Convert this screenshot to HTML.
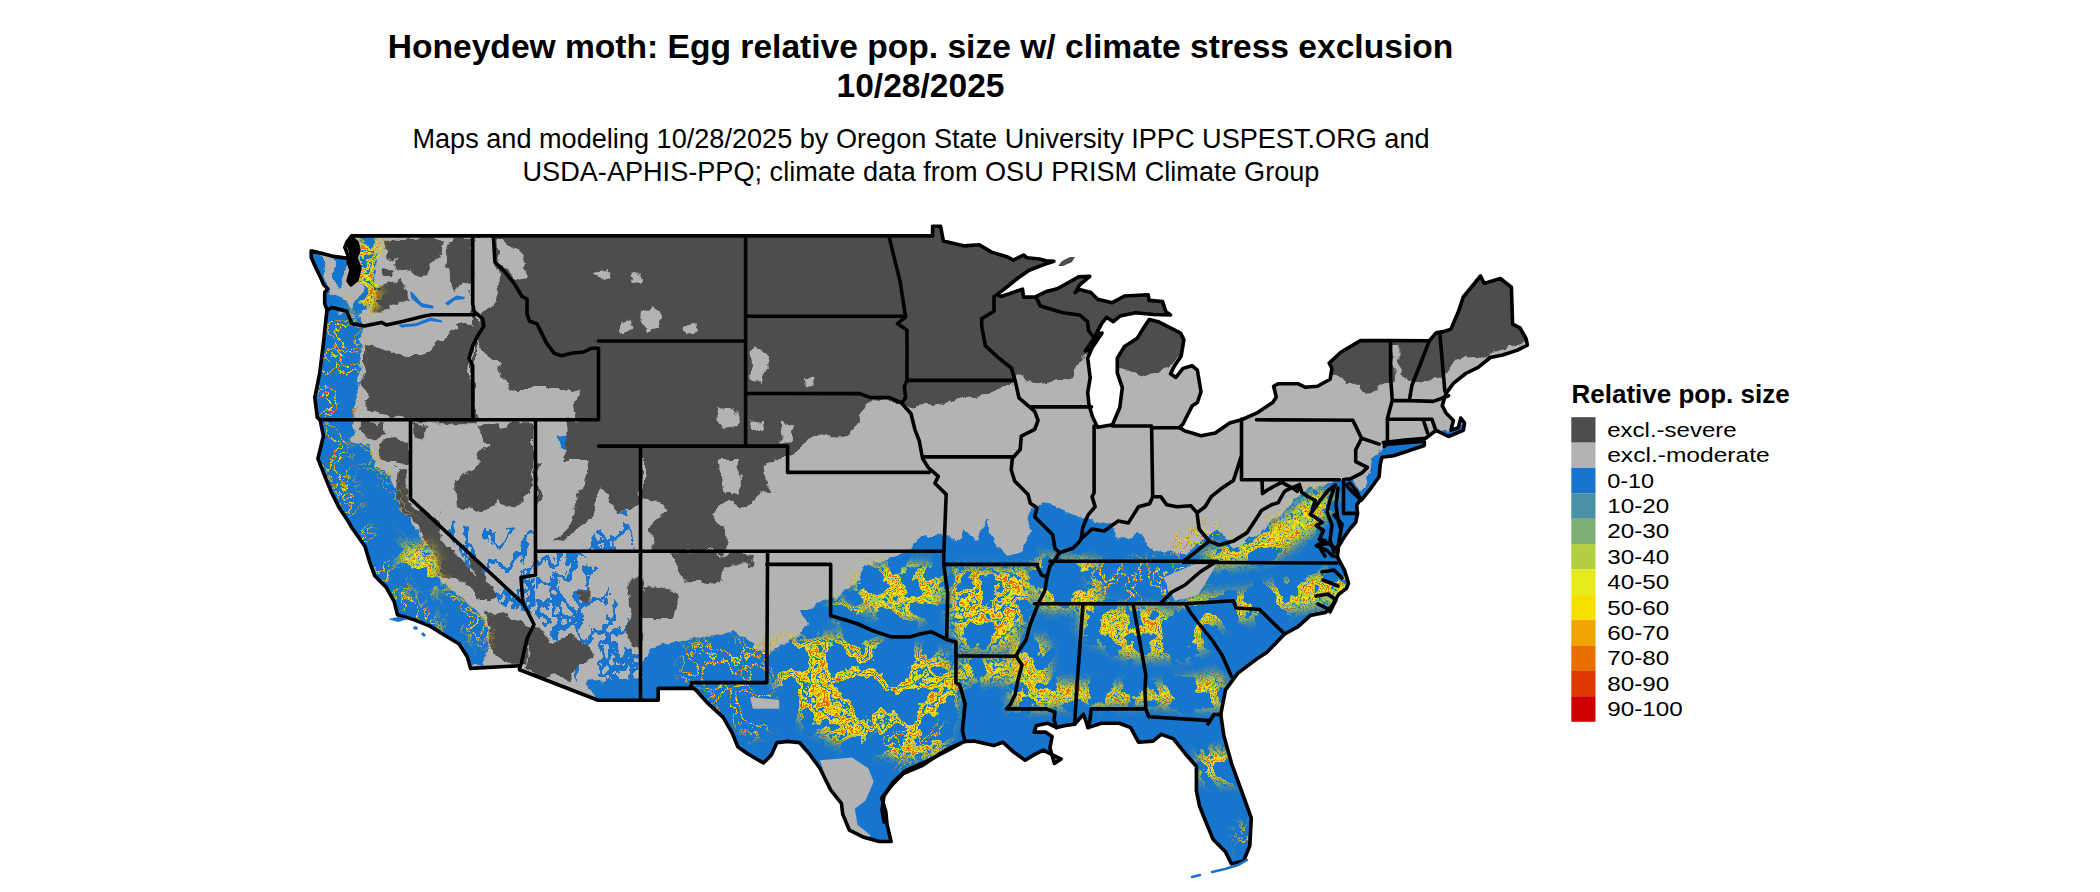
<!DOCTYPE html>
<html><head><meta charset="utf-8"><style>
html,body{margin:0;padding:0;background:#fff;width:2100px;height:892px;overflow:hidden}
svg{position:absolute;left:0;top:0}
text{font-family:"Liberation Sans",sans-serif;fill:#000}
.t{font-weight:bold;font-size:33.6px}
.s{font-size:27.12px}
.lt{font-weight:bold;font-size:26px}
.lab{font-size:20.4px}
</style></head><body>
<svg width="2100" height="892" viewBox="0 0 2100 892">
<text x="920.5" y="57.5" text-anchor="middle" class="t">Honeydew moth: Egg relative pop. size w/ climate stress exclusion</text>
<text x="920.5" y="97.4" text-anchor="middle" class="t">10/28/2025</text>
<text x="921" y="148.4" text-anchor="middle" class="s">Maps and modeling 10/28/2025 by Oregon State University IPPC USPEST.ORG and</text>
<text x="921" y="181" text-anchor="middle" class="s">USDA-APHIS-PPQ; climate data from OSU PRISM Climate Group</text>
<text x="1571.5" y="403" class="lt">Relative pop. size</text>
<rect x="1571.3" y="417.20" width="24.2" height="25.5" fill="#4d4d4d"/><text x="1607.2" y="437.00" class="lab" textLength="129.5" lengthAdjust="spacingAndGlyphs">excl.-severe</text><rect x="1571.3" y="442.57" width="24.2" height="25.5" fill="#b3b3b3"/><text x="1607.2" y="462.37" class="lab" textLength="162.5" lengthAdjust="spacingAndGlyphs">excl.-moderate</text><rect x="1571.3" y="467.94" width="24.2" height="25.5" fill="#1874cd"/><text x="1607.2" y="487.74" class="lab" textLength="47.0" lengthAdjust="spacingAndGlyphs">0-10</text><rect x="1571.3" y="493.31" width="24.2" height="25.5" fill="#4a8fa3"/><text x="1607.2" y="513.11" class="lab" textLength="62.0" lengthAdjust="spacingAndGlyphs">10-20</text><rect x="1571.3" y="518.68" width="24.2" height="25.5" fill="#7dae73"/><text x="1607.2" y="538.48" class="lab" textLength="62.0" lengthAdjust="spacingAndGlyphs">20-30</text><rect x="1571.3" y="544.05" width="24.2" height="25.5" fill="#b2cf44"/><text x="1607.2" y="563.85" class="lab" textLength="62.0" lengthAdjust="spacingAndGlyphs">30-40</text><rect x="1571.3" y="569.42" width="24.2" height="25.5" fill="#e6ec1b"/><text x="1607.2" y="589.22" class="lab" textLength="62.0" lengthAdjust="spacingAndGlyphs">40-50</text><rect x="1571.3" y="594.79" width="24.2" height="25.5" fill="#f7e000"/><text x="1607.2" y="614.59" class="lab" textLength="62.0" lengthAdjust="spacingAndGlyphs">50-60</text><rect x="1571.3" y="620.16" width="24.2" height="25.5" fill="#f0a400"/><text x="1607.2" y="639.96" class="lab" textLength="62.0" lengthAdjust="spacingAndGlyphs">60-70</text><rect x="1571.3" y="645.53" width="24.2" height="25.5" fill="#e86f00"/><text x="1607.2" y="665.33" class="lab" textLength="62.0" lengthAdjust="spacingAndGlyphs">70-80</text><rect x="1571.3" y="670.90" width="24.2" height="25.5" fill="#e03900"/><text x="1607.2" y="690.70" class="lab" textLength="62.0" lengthAdjust="spacingAndGlyphs">80-90</text><rect x="1571.3" y="696.27" width="24.2" height="25.5" fill="#d00000"/><text x="1607.2" y="716.07" class="lab" textLength="75.5" lengthAdjust="spacingAndGlyphs">90-100</text>
<defs><clipPath id="landclip"><path d="M351.6,235.9 L932.6,235.9 L932.6,226.2 L940.5,226.2 L943.4,241.0 L964.4,245.9 L979.2,244.7 L991.5,252.1 L1006.8,256.7 L1013.5,260.1 L1023.6,255.0 L1027.0,257.8 L1039.3,259.0 L1046.1,260.7 L1053.9,261.2 L1043.8,264.6 L1029.2,270.2 L1018.0,278.0 L1006.8,287.0 L996.7,294.8 L1001.2,296.5 L1012.4,292.6 L1022.5,289.2 L1023.6,297.1 L1034.8,297.1 L1046.1,291.5 L1057.3,288.7 L1068.5,282.5 L1078.6,276.9 L1089.8,276.3 L1079.7,284.8 L1075.2,292.6 L1078.6,289.2 L1090.9,292.6 L1097.6,299.3 L1112.2,302.7 L1124.5,296.0 L1148.1,294.8 L1149.2,300.4 L1162.6,301.6 L1166.0,311.7 L1170.5,315.0 L1153.7,314.5 L1135.7,312.8 L1120.0,316.1 L1113.3,321.7 L1106.6,317.3 L1102.1,322.9 L1094.3,337.4 L1090.9,343.0 L1085.3,350.7 L1088.0,350.0 L1098.0,334.0 L1102.0,333.0 L1092.0,348.0 L1087.7,358.1 L1090.2,377.9 L1087.7,392.7 L1089.0,405.0 L1092.7,417.3 L1097.6,427.2 L1105.0,426.0 L1112.4,424.7 L1119.8,407.5 L1122.3,387.7 L1117.3,372.9 L1117.3,358.1 L1124.5,346.4 L1136.9,338.6 L1144.7,326.2 L1149.2,319.5 L1158.2,321.7 L1169.4,327.4 L1180.6,333.0 L1183.9,339.7 L1181.2,355.9 L1174.1,366.6 L1170.5,373.8 L1175.9,377.4 L1183.0,368.4 L1192.0,365.7 L1197.4,370.2 L1201.0,391.7 L1197.4,402.5 L1192.0,406.1 L1188.4,413.2 L1183.0,424.0 L1179.4,427.6 L1185.0,431.0 L1192.0,433.0 L1201.0,435.7 L1215.3,433.0 L1229.7,423.1 L1242.2,419.5 L1256.5,413.2 L1272.7,402.5 L1276.3,397.1 L1273.6,386.3 L1278.1,383.7 L1297.8,383.7 L1305.0,387.2 L1317.5,386.3 L1330.1,379.2 L1331.9,368.4 L1329.2,363.0 L1340.8,352.3 L1360.5,340.6 L1391.0,340.6 L1429.4,340.7 L1436.1,332.8 L1443.5,331.6 L1450.9,329.1 L1458.3,311.8 L1463.3,297.0 L1480.5,276.0 L1484.2,283.4 L1500.3,278.5 L1511.4,287.1 L1512.6,324.2 L1520.0,327.9 L1526.2,339.0 L1527.4,345.1 L1517.6,350.1 L1502.7,355.0 L1490.4,357.5 L1478.1,367.4 L1465.7,373.5 L1453.4,383.4 L1446.0,393.3 L1442.3,405.6 L1446.0,413.0 L1453.4,420.4 L1450.9,430.3 L1458.3,427.8 L1460.8,418.0 L1464.5,422.9 L1463.3,430.3 L1448.5,436.5 L1436.1,430.3 L1431.5,433.9 L1425.7,438.3 L1405.0,440.0 L1383.4,442.6 L1385.0,444.5 L1424.3,441.2 L1424.3,445.5 L1393.6,455.7 L1382.0,457.2 L1380.2,464.5 L1379.1,476.8 L1370.2,489.2 L1361.2,500.4 L1357.0,492.0 L1350.0,483.0 L1346.5,485.1 L1352.6,492.2 L1360.6,499.3 L1356.6,505.3 L1357.6,513.4 L1355.6,522.5 L1349.5,529.5 L1344.5,536.6 L1338.4,546.7 L1337.4,556.8 L1344.5,570.3 L1348.5,583.4 L1346.5,588.4 L1338.4,594.5 L1332.4,605.6 L1325.3,612.6 L1310.2,615.6 L1298.1,626.7 L1284.6,634.0 L1267.0,652.2 L1255.9,659.6 L1237.6,673.4 L1225.4,690.1 L1220.8,714.5 L1223.9,735.9 L1231.5,763.3 L1243.7,796.9 L1251.3,818.2 L1249.8,845.7 L1243.7,860.9 L1231.5,864.0 L1225.4,851.8 L1213.2,839.6 L1205.6,821.3 L1199.5,806.0 L1196.4,790.8 L1196.4,766.4 L1185.7,754.2 L1173.5,738.9 L1161.3,734.4 L1153.0,741.1 L1138.5,742.2 L1130.6,727.6 L1119.4,723.2 L1101.5,723.2 L1088.0,727.6 L1083.5,714.2 L1074.6,724.3 L1065.6,725.4 L1056.6,727.6 L1047.6,723.2 L1036.4,725.4 L1034.2,732.1 L1045.4,732.1 L1052.1,736.6 L1049.9,747.8 L1054.4,763.5 L1061.1,759.0 L1052.1,754.6 L1043.2,750.1 L1034.2,754.6 L1025.2,760.2 L1014.0,752.3 L1002.8,742.2 L993.8,745.6 L973.6,741.1 L965.1,741.4 L949.0,748.2 L938.2,754.9 L922.1,765.7 L903.2,773.7 L892.5,784.5 L881.7,797.9 L885.8,811.4 L887.1,824.8 L891.1,841.5 L879.0,841.5 L862.9,836.9 L849.4,830.2 L842.7,814.1 L841.4,803.3 L830.6,789.9 L819.9,768.3 L809.1,753.5 L799.7,742.8 L787.6,741.4 L776.8,742.8 L771.4,754.9 L763.4,763.0 L747.2,753.5 L737.8,746.8 L732.4,733.4 L723.0,717.2 L706.9,702.4 L696.1,690.3 L690.8,686.3 L693.5,688.4 L658.2,688.4 L658.2,700.2 L598.1,700.2 L519.5,669.7 L520.4,665.7 L470.6,668.4 L467.4,657.0 L459.2,644.0 L443.0,634.2 L430.0,626.1 L413.7,619.6 L397.5,614.7 L394.2,601.7 L386.1,587.1 L374.7,575.8 L369.9,562.7 L365.0,546.5 L357.0,535.0 L352.0,528.0 L348.7,522.1 L339.0,507.5 L330.9,491.2 L324.4,475.0 L317.9,458.7 L323.4,436.0 L320.1,419.8 L317.3,417.4 L314.8,397.6 L319.7,373.0 L323.4,343.4 L326.0,318.7 L327.0,310.0 L324.7,303.5 L324.7,292.3 L328.0,288.9 L323.5,284.4 L320.2,276.6 L315.7,267.6 L311.2,257.5 L311.2,250.8 L322.4,253.6 L333.6,256.4 L349.3,258.6 L344.8,247.4 L347.1,241.8Z"/></clipPath><clipPath id="c_st0"><path d="M536.0,554.0 L580.0,552.0 L600.0,570.0 L615.0,600.0 L641.0,635.0 L641.0,700.0 L586.0,700.0 L561.0,651.0 L536.0,615.0Z"/></clipPath>
<clipPath id="c_st1"><path d="M454.0,540.0 L534.5,540.0 L534.5,574.0 L536.0,615.0 L530.0,612.0 L507.0,608.0 L486.0,594.0 L472.0,576.0Z"/></clipPath>
<clipPath id="c_st2"><path d="M439.9,511.2 L461.4,525.5 L497.2,529.1 L533.1,525.5 L536.7,559.9 L470.3,559.9 L452.4,543.4Z"/></clipPath>
<clipPath id="c_st3"><path d="M640.0,655.0 L700.0,650.0 L767.0,645.0 L767.0,683.0 L640.0,700.0Z"/></clipPath>
<clipPath id="c_st4"><path d="M582.5,550.0 L596.6,530.8 L610.7,520.7 L622.8,510.6 L632.9,508.6 L630.9,526.8 L634.9,550.0Z"/></clipPath>
<clipPath id="c_st5"><path d="M580.0,690.0 L640.0,672.0 L640.0,702.0 L596.0,702.0Z"/></clipPath>
<mask id="c_thin" maskUnits="userSpaceOnUse" x="300" y="200" width="1300" height="700"><g filter="url(#mblur)"><path fill="#fff" d="M689.4,638.9 L774.2,638.9 L774.2,723.7 L755.3,742.5 L708.2,704.8Z"/><path fill="#fff" d="M1089.6,558.9 L1216.7,558.9 L1197.9,601.2 L1089.6,601.2Z"/><path fill="#fff" d="M1235.6,827.2 L1249.7,817.8 L1252.0,850.8 L1237.9,855.5Z"/><path fill="#fff" d="M877.7,723.7 L943.7,723.7 L962.5,742.5 L906.0,770.7 L877.7,761.3Z"/><path fill="#fff" d="M1174.4,530.6 L1221.4,521.2 L1221.4,554.2 L1174.4,558.9Z"/><path fill="#fff" d="M680.0,648.3 L767.1,638.9 L767.1,686.0 L680.0,686.0Z"/><path fill="#fff" d="M316.0,312.0 L362.0,318.0 L360.0,360.0 L356.0,420.0 L316.0,420.0Z"/><path fill="#fff" d="M318.0,425.0 L345.0,425.0 L350.0,470.0 L365.0,520.0 L390.0,560.0 L420.0,600.0 L455.0,640.0 L470.0,660.0 L460.0,672.0 L430.0,640.0 L390.0,600.0 L360.0,560.0 L335.0,500.0 L320.0,460.0Z"/><path fill="#fff" d="M354.0,440.0 L372.0,444.0 L376.0,468.0 L387.0,472.0 L400.0,493.0 L406.0,510.0 L415.0,529.0 L427.0,548.0 L434.0,564.0 L442.0,582.0 L455.0,592.0 L470.0,606.0 L484.0,615.0 L490.0,630.0 L486.0,650.0 L470.0,640.0 L450.0,610.0 L432.0,584.0 L422.0,566.0 L410.0,545.0 L400.0,525.0 L392.0,500.0 L380.0,480.0 L366.0,470.0Z"/></g></mask>
<mask id="c_mid" maskUnits="userSpaceOnUse" x="300" y="200" width="1300" height="700"><g filter="url(#mblur)"><path fill="#fff" d="M830.0,600.0 L860.0,600.0 L880.0,620.0 L850.0,628.0 L830.0,615.0Z"/><path fill="#fff" d="M774.2,638.9 L844.8,634.2 L891.9,643.6 L943.7,653.0 L962.5,686.0 L943.7,751.9 L915.4,761.3 L877.7,751.9 L835.4,742.5 L802.4,723.7 L774.2,686.0Z"/><path fill="#fff" d="M948.4,568.3 L1037.8,568.3 L1028.4,615.4 L1009.6,648.3 L957.8,648.3 L948.4,615.4Z"/><path fill="#fff" d="M957.8,657.7 L1019.0,657.7 L1019.0,681.3 L957.8,681.3Z"/><path fill="#fff" d="M1197.9,747.2 L1240.3,751.9 L1240.3,784.9 L1197.9,780.2Z"/><path fill="#fff" d="M352.0,238.0 L380.0,238.0 L378.0,310.0 L352.0,310.0Z"/></g></mask>
<mask id="c_dense" maskUnits="userSpaceOnUse" x="300" y="200" width="1300" height="700"><g filter="url(#mblur)"><path fill="#fff" d="M860.0,568.0 L900.0,562.0 L945.0,566.0 L945.0,600.0 L920.0,622.0 L880.0,618.0 L852.0,602.0Z"/><path fill="#fff" d="M1032.0,556.0 L1098.0,560.0 L1102.0,608.0 L1040.0,610.0 L1030.0,585.0Z"/><path fill="#fff" d="M1080.2,606.0 L1150.8,606.0 L1197.9,620.1 L1221.4,638.9 L1188.5,657.7 L1127.3,657.7 L1080.2,634.2Z"/><path fill="#fff" d="M1179.1,596.5 L1245.0,591.8 L1315.6,573.0 L1348.5,568.3 L1348.5,601.2 L1292.1,610.7 L1221.4,624.8 L1188.5,624.8Z"/><path fill="#fff" d="M1197.9,554.2 L1245.0,535.3 L1282.6,516.5 L1315.6,488.2 L1339.1,497.7 L1315.6,530.6 L1273.2,558.9 L1221.4,568.3Z"/><path fill="#fff" d="M1009.6,638.9 L1047.2,638.9 L1051.9,709.5 L1009.6,709.5Z"/><path fill="#fff" d="M1047.2,681.3 L1150.8,686.0 L1221.4,671.9 L1226.1,709.5 L1150.8,704.8 L1047.2,707.2Z"/><path fill="#fff" d="M398.0,545.0 L432.0,545.0 L442.0,578.0 L432.0,596.0 L400.0,590.0Z"/></g></mask>
<filter id="rough" filterUnits="userSpaceOnUse" x="280" y="200" width="1300" height="700"><feTurbulence type="fractalNoise" baseFrequency="0.06" numOctaves="4" seed="4" result="n"/><feDisplacementMap in="SourceGraphic" in2="n" scale="14" xChannelSelector="R" yChannelSelector="G"/></filter>
<filter id="rough2" filterUnits="userSpaceOnUse" x="280" y="200" width="1300" height="700"><feTurbulence type="fractalNoise" baseFrequency="0.07" numOctaves="4" seed="9" result="n"/><feDisplacementMap in="SourceGraphic" in2="n" scale="12" xChannelSelector="R" yChannelSelector="G"/></filter>
<filter id="mblur" filterUnits="userSpaceOnUse" x="300" y="200" width="1300" height="700"><feGaussianBlur stdDeviation="6"/></filter>
<filter id="fthin" filterUnits="userSpaceOnUse" x="300" y="200" width="1300" height="700" color-interpolation-filters="sRGB"><feTurbulence type="fractalNoise" baseFrequency="0.03" numOctaves="5" seed="17" result="t"/><feColorMatrix in="t" type="matrix" values="0 0 0 0 0  0 0 0 0 0  0 0 0 0 0  1 0 0 0 0" result="a"/><feComponentTransfer in="a" result="halo"><feFuncA type="discrete" tableValues="0 0 0 0 0 0 0 0 0 0 0 0 0 0 0 0 0 0 0 0 0 0 0 0 0 0 0 0 0 0 0 0 0 0 0 0 0 0 0 0 0 0 0 0 0 0 0 0 0 0 0 0 0 0 0 0 0 0 0 0 0 0 0 0 0 0 0 0 0 0 0 0 0 0 0 0 0 0 0 0 0 0 0 0 0 1 1 1 1 1 1 0 0 0 0 0 0 0 0 0 0 0 0 0 0 0 0 0 0 1 1 1 1 1 1 0 0 0 0 0 0 0 0 0 0 0 0 0 0 0 0 0 0 0 0 0 0 0 0 0 0 0 0 0 0 0 0 0 0 0 0 0 0 0 0 0 0 0 0 0 0 0 0 0 0 0 0 0 0 0 0 0 0 0 0 0 0 0 0 0 0 0 0 0 0 0 0 0 0 0 0 0 0 0 0 0 0 0 0 0"/></feComponentTransfer><feComponentTransfer in="a" result="band"><feFuncA type="discrete" tableValues="0 0 0 0 0 0 0 0 0 0 0 0 0 0 0 0 0 0 0 0 0 0 0 0 0 0 0 0 0 0 0 0 0 0 0 0 0 0 0 0 0 0 0 0 0 0 0 0 0 0 0 0 0 0 0 0 0 0 0 0 0 0 0 0 0 0 0 0 0 0 0 0 0 0 0 0 0 0 0 0 0 0 0 0 0 0 1 1 1 1 0 0 0 0 0 0 0 0 0 0 0 0 0 0 0 0 0 0 0 0 1 1 1 1 0 0 0 0 0 0 0 0 0 0 0 0 0 0 0 0 0 0 0 0 0 0 0 0 0 0 0 0 0 0 0 0 0 0 0 0 0 0 0 0 0 0 0 0 0 0 0 0 0 0 0 0 0 0 0 0 0 0 0 0 0 0 0 0 0 0 0 0 0 0 0 0 0 0 0 0 0 0 0 0 0 0 0 0 0 0"/></feComponentTransfer><feComponentTransfer in="a" result="core"><feFuncA type="discrete" tableValues="0 0 0 0 0 0 0 0 0 0 0 0 0 0 0 0 0 0 0 0 0 0 0 0 0 0 0 0 0 0 0 0 0 0 0 0 0 0 0 0 0 0 0 0 0 0 0 0 0 0 0 0 0 0 0 0 0 0 0 0 0 0 0 0 0 0 0 0 0 0 0 0 0 0 0 0 0 0 0 0 0 0 0 0 0 0 0 0 0 0 0 0 0 0 0 0 0 0 0 0 0 0 0 0 0 0 0 0 0 0 0 0 0 0 0 0 0 0 0 0 0 0 0 0 0 0 0 0 0 0 0 0 0 0 0 0 0 0 0 0 0 0 0 0 0 0 0 0 0 0 0 0 0 0 0 0 0 0 0 0 0 0 0 0 0 0 0 0 0 0 0 0 0 0 1 1 1 1 0 0 0 0 0 0 0 0 0 0 0 0 0 0 0 0 0 0 0 0 0 0 0 0 0 0 0 0 0 0 0 0 0 0 0 0 0 0 0 0 0 0 0 0 1 1 1 1 0 0 0 0 0 0 0 0 0 0 0 0 0 0 0 0 0 0 0 0 0 0 0 0 0 0 0 0 0 0 0 0 0 0 0 0 0 0 0 0 0 0 0 0 0 0 0 0 0 0 0 0 0 0 0 0 0 0 0 0 0 0 0 0 0 0 0 0 0 0 0 0 0 0 0 0 0 0 0 0 0 0 0 0 0 0 0 0 0 0 0 0 0 0 0 0 0 0 0 0 0 0 0 0 0 0 0 0 0 0 0 0 0 0 0 0 0 0 0 0 0 0 0 0 0 0 0 0 0 0 0 0 0 0 0 0 0 0 0 0 0 0 0 0 0 0 0 0 0 0 0 0 0 0 0 0 0 0 0 0 0 0 0 0 0 0 0 0 0 0 0 0 0 0"/></feComponentTransfer><feFlood flood-color="#a8c850"/><feComposite in2="halo" operator="in" result="hl"/><feFlood flood-color="#f8e000"/><feComposite in2="band" operator="in" result="yl"/><feFlood flood-color="#e87000"/><feComposite in2="core" operator="in" result="ol"/><feMerge><feMergeNode in="hl"/><feMergeNode in="yl"/><feMergeNode in="ol"/></feMerge></filter>
<filter id="fdense" filterUnits="userSpaceOnUse" x="300" y="200" width="1300" height="700" color-interpolation-filters="sRGB"><feTurbulence type="fractalNoise" baseFrequency="0.025" numOctaves="5" seed="7" result="t"/><feColorMatrix in="t" type="matrix" values="0 0 0 0 0  0 0 0 0 0  0 0 0 0 0  1 0 0 0 0" result="a"/><feComponentTransfer in="a" result="halo"><feFuncA type="discrete" tableValues="0 0 0 0 0 0 0 0 0 0 0 0 0 0 0 0 0 0 0 0 0 0 0 0 0 0 0 0 0 0 0 0 0 0 0 0 0 0 0 0 0 0 0 0 0 0 0 0 0 0 0 0 0 0 0 0 0 0 0 0 0 0 0 0 0 0 0 0 0 0 0 0 0 0 0 0 0 0 0 0 0 1 1 1 1 1 1 1 1 1 1 1 1 1 1 1 1 1 1 0 0 1 1 1 1 1 1 1 1 1 1 1 1 1 1 1 1 1 1 0 0 0 0 0 0 0 0 0 0 0 0 0 0 0 0 0 0 0 0 0 0 0 0 0 0 0 0 0 0 0 0 0 0 0 0 0 0 0 0 0 0 0 0 0 0 0 0 0 0 0 0 0 0 0 0 0 0 0 0 0 0 0 0 0 0 0 0 0 0 0 0 0 0 0 0 0 0 0 0 0"/></feComponentTransfer><feComponentTransfer in="a" result="band"><feFuncA type="discrete" tableValues="0 0 0 0 0 0 0 0 0 0 0 0 0 0 0 0 0 0 0 0 0 0 0 0 0 0 0 0 0 0 0 0 0 0 0 0 0 0 0 0 0 0 0 0 0 0 0 0 0 0 0 0 0 0 0 0 0 0 0 0 0 0 0 0 0 0 0 0 0 0 0 0 0 0 0 0 0 0 0 0 0 0 0 0 0 1 1 1 1 1 1 1 1 1 1 0 0 0 0 0 0 0 0 0 0 1 1 1 1 1 1 1 1 1 1 0 0 0 0 0 0 0 0 0 0 0 0 0 0 0 0 0 0 0 0 0 0 0 0 0 0 0 0 0 0 0 0 0 0 0 0 0 0 0 0 0 0 0 0 0 0 0 0 0 0 0 0 0 0 0 0 0 0 0 0 0 0 0 0 0 0 0 0 0 0 0 0 0 0 0 0 0 0 0 0 0 0 0 0 0"/></feComponentTransfer><feComponentTransfer in="a" result="core"><feFuncA type="discrete" tableValues="0 0 0 0 0 0 0 0 0 0 0 0 0 0 0 0 0 0 0 0 0 0 0 0 0 0 0 0 0 0 0 0 0 0 0 0 0 0 0 0 0 0 0 0 0 0 0 0 0 0 0 0 0 0 0 0 0 0 0 0 0 0 0 0 0 0 0 0 0 0 0 0 0 0 0 0 0 0 0 0 0 0 0 0 0 0 0 0 0 0 0 0 0 0 0 0 0 0 0 0 0 0 0 0 0 0 0 0 0 0 0 0 0 0 0 0 0 0 0 0 0 0 0 0 0 0 0 0 0 0 0 0 0 0 0 0 0 0 0 0 0 0 0 0 0 0 0 0 0 0 0 0 0 0 0 0 0 0 0 0 0 0 0 0 0 0 0 0 0 0 0 0 0 0 0 0 0 1 1 1 1 1 1 0 0 0 0 0 0 0 0 0 0 0 0 0 0 0 0 0 0 0 0 0 0 0 0 0 0 0 0 0 0 0 0 0 0 1 1 1 1 1 1 0 0 0 0 0 0 0 0 0 0 0 0 0 0 0 0 0 0 0 0 0 0 0 0 0 0 0 0 0 0 0 0 0 0 0 0 0 0 0 0 0 0 0 0 0 0 0 0 0 0 0 0 0 0 0 0 0 0 0 0 0 0 0 0 0 0 0 0 0 0 0 0 0 0 0 0 0 0 0 0 0 0 0 0 0 0 0 0 0 0 0 0 0 0 0 0 0 0 0 0 0 0 0 0 0 0 0 0 0 0 0 0 0 0 0 0 0 0 0 0 0 0 0 0 0 0 0 0 0 0 0 0 0 0 0 0 0 0 0 0 0 0 0 0 0 0 0 0 0 0 0 0 0 0 0 0 0 0 0 0 0 0 0 0 0 0 0 0 0 0 0 0 0 0 0 0 0"/></feComponentTransfer><feFlood flood-color="#a8c850"/><feComposite in2="halo" operator="in" result="hl"/><feFlood flood-color="#f8e000"/><feComposite in2="band" operator="in" result="yl"/><feFlood flood-color="#e87000"/><feComposite in2="core" operator="in" result="ol"/><feMerge><feMergeNode in="hl"/><feMergeNode in="yl"/><feMergeNode in="ol"/></feMerge></filter>
<filter id="fmid" filterUnits="userSpaceOnUse" x="300" y="200" width="1300" height="700" color-interpolation-filters="sRGB"><feTurbulence type="fractalNoise" baseFrequency="0.025" numOctaves="5" seed="13" result="t"/><feColorMatrix in="t" type="matrix" values="0 0 0 0 0  0 0 0 0 0  0 0 0 0 0  1 0 0 0 0" result="a"/><feComponentTransfer in="a" result="halo"><feFuncA type="discrete" tableValues="0 0 0 0 0 0 0 0 0 0 0 0 0 0 0 0 0 0 0 0 0 0 0 0 0 0 0 0 0 0 0 0 0 0 0 0 0 0 0 0 0 0 0 0 0 0 0 0 0 0 0 0 0 0 0 0 0 0 0 0 0 0 0 0 0 0 0 0 0 0 0 0 0 0 0 0 0 0 0 0 0 0 1 1 1 1 1 1 1 1 1 1 1 1 1 1 1 1 0 0 0 0 1 1 1 1 1 1 1 1 1 1 1 1 1 1 1 1 0 0 0 0 0 0 0 0 0 0 0 0 0 0 0 0 0 0 0 0 0 0 0 0 0 0 0 0 0 0 0 0 0 0 0 0 0 0 0 0 0 0 0 0 0 0 0 0 0 0 0 0 0 0 0 0 0 0 0 0 0 0 0 0 0 0 0 0 0 0 0 0 0 0 0 0 0 0 0 0 0 0"/></feComponentTransfer><feComponentTransfer in="a" result="band"><feFuncA type="discrete" tableValues="0 0 0 0 0 0 0 0 0 0 0 0 0 0 0 0 0 0 0 0 0 0 0 0 0 0 0 0 0 0 0 0 0 0 0 0 0 0 0 0 0 0 0 0 0 0 0 0 0 0 0 0 0 0 0 0 0 0 0 0 0 0 0 0 0 0 0 0 0 0 0 0 0 0 0 0 0 0 0 0 0 0 0 0 0 1 1 1 1 1 1 1 1 1 1 0 0 0 0 0 0 0 0 0 0 1 1 1 1 1 1 1 1 1 1 0 0 0 0 0 0 0 0 0 0 0 0 0 0 0 0 0 0 0 0 0 0 0 0 0 0 0 0 0 0 0 0 0 0 0 0 0 0 0 0 0 0 0 0 0 0 0 0 0 0 0 0 0 0 0 0 0 0 0 0 0 0 0 0 0 0 0 0 0 0 0 0 0 0 0 0 0 0 0 0 0 0 0 0 0"/></feComponentTransfer><feComponentTransfer in="a" result="core"><feFuncA type="discrete" tableValues="0 0 0 0 0 0 0 0 0 0 0 0 0 0 0 0 0 0 0 0 0 0 0 0 0 0 0 0 0 0 0 0 0 0 0 0 0 0 0 0 0 0 0 0 0 0 0 0 0 0 0 0 0 0 0 0 0 0 0 0 0 0 0 0 0 0 0 0 0 0 0 0 0 0 0 0 0 0 0 0 0 0 0 0 0 0 0 0 0 0 0 0 0 0 0 0 0 0 0 0 0 0 0 0 0 0 0 0 0 0 0 0 0 0 0 0 0 0 0 0 0 0 0 0 0 0 0 0 0 0 0 0 0 0 0 0 0 0 0 0 0 0 0 0 0 0 0 0 0 0 0 0 0 0 0 0 0 0 0 0 0 0 0 0 0 0 0 0 0 0 0 0 0 0 0 0 0 1 1 1 1 1 1 0 0 0 0 0 0 0 0 0 0 0 0 0 0 0 0 0 0 0 0 0 0 0 0 0 0 0 0 0 0 0 0 0 0 1 1 1 1 1 1 0 0 0 0 0 0 0 0 0 0 0 0 0 0 0 0 0 0 0 0 0 0 0 0 0 0 0 0 0 0 0 0 0 0 0 0 0 0 0 0 0 0 0 0 0 0 0 0 0 0 0 0 0 0 0 0 0 0 0 0 0 0 0 0 0 0 0 0 0 0 0 0 0 0 0 0 0 0 0 0 0 0 0 0 0 0 0 0 0 0 0 0 0 0 0 0 0 0 0 0 0 0 0 0 0 0 0 0 0 0 0 0 0 0 0 0 0 0 0 0 0 0 0 0 0 0 0 0 0 0 0 0 0 0 0 0 0 0 0 0 0 0 0 0 0 0 0 0 0 0 0 0 0 0 0 0 0 0 0 0 0 0 0 0 0 0 0 0 0 0 0 0 0 0 0 0 0"/></feComponentTransfer><feFlood flood-color="#a8c850"/><feComposite in2="halo" operator="in" result="hl"/><feFlood flood-color="#f8e000"/><feComposite in2="band" operator="in" result="yl"/><feFlood flood-color="#e87000"/><feComposite in2="core" operator="in" result="ol"/><feMerge><feMergeNode in="hl"/><feMergeNode in="yl"/><feMergeNode in="ol"/></feMerge></filter>
<filter id="fblob" filterUnits="userSpaceOnUse" x="300" y="200" width="1300" height="700" color-interpolation-filters="sRGB"><feTurbulence type="fractalNoise" baseFrequency="0.045 0.03" numOctaves="5" seed="11" result="t"/><feColorMatrix in="t" type="matrix" values="0 0 0 0 0  0 0 0 0 0  0 0 0 0 0  1 0 0 0 0" result="a"/><feComponentTransfer in="a" result="band"><feFuncA type="discrete" tableValues="0 0 0 0 0 0 0 0 0 0 0 0 0 0 0 0 0 0 0 0 0 0 0 0 0 0 0 0 0 0 0 0 0 0 0 0 0 0 0 0 0 0 0 0 0 0 0 0 0 0 0 0 0 0 0 0 0 0 0 0 0 0 0 0 0 0 0 0 0 0 0 0 0 0 0 0 0 0 0 0 0 0 0 0 0 0 0 0 0 0 1 1 1 1 1 1 1 1 1 1 1 1 1 1 1 1 1 1 1 1 0 0 0 0 0 0 0 0 0 0 0 0 0 0 0 0 0 0 0 0 0 0 0 0 0 0 0 0 0 0 0 0 0 0 0 0 0 0 0 0 0 0 0 0 0 0 0 0 0 0 0 0 0 0 0 0 0 0 0 0 0 0 0 0 0 0 0 0 0 0 0 0 0 0 0 0 0 0 0 0 0 0 0 0 0 0 0 0 0 0"/></feComponentTransfer><feFlood flood-color="#1874cd"/><feComposite in2="band" operator="in"/></filter></defs><path d="M351.6,235.9 L932.6,235.9 L932.6,226.2 L940.5,226.2 L943.4,241.0 L964.4,245.9 L979.2,244.7 L991.5,252.1 L1006.8,256.7 L1013.5,260.1 L1023.6,255.0 L1027.0,257.8 L1039.3,259.0 L1046.1,260.7 L1053.9,261.2 L1043.8,264.6 L1029.2,270.2 L1018.0,278.0 L1006.8,287.0 L996.7,294.8 L1001.2,296.5 L1012.4,292.6 L1022.5,289.2 L1023.6,297.1 L1034.8,297.1 L1046.1,291.5 L1057.3,288.7 L1068.5,282.5 L1078.6,276.9 L1089.8,276.3 L1079.7,284.8 L1075.2,292.6 L1078.6,289.2 L1090.9,292.6 L1097.6,299.3 L1112.2,302.7 L1124.5,296.0 L1148.1,294.8 L1149.2,300.4 L1162.6,301.6 L1166.0,311.7 L1170.5,315.0 L1153.7,314.5 L1135.7,312.8 L1120.0,316.1 L1113.3,321.7 L1106.6,317.3 L1102.1,322.9 L1094.3,337.4 L1090.9,343.0 L1085.3,350.7 L1088.0,350.0 L1098.0,334.0 L1102.0,333.0 L1092.0,348.0 L1087.7,358.1 L1090.2,377.9 L1087.7,392.7 L1089.0,405.0 L1092.7,417.3 L1097.6,427.2 L1105.0,426.0 L1112.4,424.7 L1119.8,407.5 L1122.3,387.7 L1117.3,372.9 L1117.3,358.1 L1124.5,346.4 L1136.9,338.6 L1144.7,326.2 L1149.2,319.5 L1158.2,321.7 L1169.4,327.4 L1180.6,333.0 L1183.9,339.7 L1181.2,355.9 L1174.1,366.6 L1170.5,373.8 L1175.9,377.4 L1183.0,368.4 L1192.0,365.7 L1197.4,370.2 L1201.0,391.7 L1197.4,402.5 L1192.0,406.1 L1188.4,413.2 L1183.0,424.0 L1179.4,427.6 L1185.0,431.0 L1192.0,433.0 L1201.0,435.7 L1215.3,433.0 L1229.7,423.1 L1242.2,419.5 L1256.5,413.2 L1272.7,402.5 L1276.3,397.1 L1273.6,386.3 L1278.1,383.7 L1297.8,383.7 L1305.0,387.2 L1317.5,386.3 L1330.1,379.2 L1331.9,368.4 L1329.2,363.0 L1340.8,352.3 L1360.5,340.6 L1391.0,340.6 L1429.4,340.7 L1436.1,332.8 L1443.5,331.6 L1450.9,329.1 L1458.3,311.8 L1463.3,297.0 L1480.5,276.0 L1484.2,283.4 L1500.3,278.5 L1511.4,287.1 L1512.6,324.2 L1520.0,327.9 L1526.2,339.0 L1527.4,345.1 L1517.6,350.1 L1502.7,355.0 L1490.4,357.5 L1478.1,367.4 L1465.7,373.5 L1453.4,383.4 L1446.0,393.3 L1442.3,405.6 L1446.0,413.0 L1453.4,420.4 L1450.9,430.3 L1458.3,427.8 L1460.8,418.0 L1464.5,422.9 L1463.3,430.3 L1448.5,436.5 L1436.1,430.3 L1431.5,433.9 L1425.7,438.3 L1405.0,440.0 L1383.4,442.6 L1385.0,444.5 L1424.3,441.2 L1424.3,445.5 L1393.6,455.7 L1382.0,457.2 L1380.2,464.5 L1379.1,476.8 L1370.2,489.2 L1361.2,500.4 L1357.0,492.0 L1350.0,483.0 L1346.5,485.1 L1352.6,492.2 L1360.6,499.3 L1356.6,505.3 L1357.6,513.4 L1355.6,522.5 L1349.5,529.5 L1344.5,536.6 L1338.4,546.7 L1337.4,556.8 L1344.5,570.3 L1348.5,583.4 L1346.5,588.4 L1338.4,594.5 L1332.4,605.6 L1325.3,612.6 L1310.2,615.6 L1298.1,626.7 L1284.6,634.0 L1267.0,652.2 L1255.9,659.6 L1237.6,673.4 L1225.4,690.1 L1220.8,714.5 L1223.9,735.9 L1231.5,763.3 L1243.7,796.9 L1251.3,818.2 L1249.8,845.7 L1243.7,860.9 L1231.5,864.0 L1225.4,851.8 L1213.2,839.6 L1205.6,821.3 L1199.5,806.0 L1196.4,790.8 L1196.4,766.4 L1185.7,754.2 L1173.5,738.9 L1161.3,734.4 L1153.0,741.1 L1138.5,742.2 L1130.6,727.6 L1119.4,723.2 L1101.5,723.2 L1088.0,727.6 L1083.5,714.2 L1074.6,724.3 L1065.6,725.4 L1056.6,727.6 L1047.6,723.2 L1036.4,725.4 L1034.2,732.1 L1045.4,732.1 L1052.1,736.6 L1049.9,747.8 L1054.4,763.5 L1061.1,759.0 L1052.1,754.6 L1043.2,750.1 L1034.2,754.6 L1025.2,760.2 L1014.0,752.3 L1002.8,742.2 L993.8,745.6 L973.6,741.1 L965.1,741.4 L949.0,748.2 L938.2,754.9 L922.1,765.7 L903.2,773.7 L892.5,784.5 L881.7,797.9 L885.8,811.4 L887.1,824.8 L891.1,841.5 L879.0,841.5 L862.9,836.9 L849.4,830.2 L842.7,814.1 L841.4,803.3 L830.6,789.9 L819.9,768.3 L809.1,753.5 L799.7,742.8 L787.6,741.4 L776.8,742.8 L771.4,754.9 L763.4,763.0 L747.2,753.5 L737.8,746.8 L732.4,733.4 L723.0,717.2 L706.9,702.4 L696.1,690.3 L690.8,686.3 L693.5,688.4 L658.2,688.4 L658.2,700.2 L598.1,700.2 L519.5,669.7 L520.4,665.7 L470.6,668.4 L467.4,657.0 L459.2,644.0 L443.0,634.2 L430.0,626.1 L413.7,619.6 L397.5,614.7 L394.2,601.7 L386.1,587.1 L374.7,575.8 L369.9,562.7 L365.0,546.5 L357.0,535.0 L352.0,528.0 L348.7,522.1 L339.0,507.5 L330.9,491.2 L324.4,475.0 L317.9,458.7 L323.4,436.0 L320.1,419.8 L317.3,417.4 L314.8,397.6 L319.7,373.0 L323.4,343.4 L326.0,318.7 L327.0,310.0 L324.7,303.5 L324.7,292.3 L328.0,288.9 L323.5,284.4 L320.2,276.6 L315.7,267.6 L311.2,257.5 L311.2,250.8 L322.4,253.6 L333.6,256.4 L349.3,258.6 L344.8,247.4 L347.1,241.8Z" fill="#b3b3b3"/><g clip-path="url(#landclip)"><g filter="url(#rough2)">
<path d="M300.0,245.0 L318.0,251.0 L322.0,262.0 L325.0,280.0 L330.0,292.0 L345.0,300.0 L350.0,312.0 L300.0,312.0Z" fill="#1874cd"/>
<path d="M334.0,256.0 L348.0,258.0 L345.0,275.0 L340.0,290.0 L334.0,280.0Z" fill="#1874cd"/>
<path d="M360.4,235.8 L375.0,235.8 L376.4,259.1 L375.0,291.2 L369.1,311.6 L357.5,317.4 L348.7,311.6 L361.9,291.2Z" fill="#1874cd"/>
<path d="M300.0,312.0 L338.0,312.0 L362.0,318.0 L360.0,360.0 L356.0,400.0 L353.0,419.0 L300.0,419.0Z" fill="#1874cd"/>
<path d="M300.0,419.0 L355.6,419.0 L354.0,436.0 L354.3,443.3 L371.5,445.3 L375.3,468.1 L386.7,471.9 L400.1,492.9 L405.8,510.1 L415.3,529.1 L426.8,548.2 L434.4,563.5 L442.0,582.5 L455.0,592.0 L462.0,598.0 L471.7,608.1 L484.3,615.3 L489.7,629.7 L486.0,647.6 L484.3,665.5 L300.0,680.0Z" fill="#1874cd"/>
<path d="M559.5,434.9 L571.2,436.4 L579.9,445.1 L582.8,455.3 L571.2,455.3 L562.4,446.6Z" fill="#1874cd"/>
<path d="M560.3,440.0 L582.5,442.0 L582.5,456.1 L566.3,452.1Z" fill="#1874cd"/>
<path d="M587.0,684.0 L610.0,680.0 L640.0,678.0 L640.0,702.0 L596.0,702.0Z" fill="#1874cd"/>
<path d="M640.0,702.0 L640.0,680.0 L649.2,647.4 L678.3,641.6 L707.5,635.7 L736.6,632.8 L767.5,653.2 L770.0,653.0 L790.0,641.0 L810.5,626.8 L800.4,608.6 L816.5,604.6 L830.6,598.5 L850.8,590.5 L860.9,572.3 L873.0,562.2 L889.2,558.2 L911.4,548.1 L923.3,535.5 L945.5,534.3 L955.4,541.7 L962.9,526.9 L977.7,541.7 L987.6,519.4 L995.1,541.7 L1007.5,554.1 L1022.3,549.2 L1029.7,534.3 L1029.7,509.5 L1044.6,502.1 L1057.0,509.5 L1081.7,517.0 L1111.5,521.9 L1116.4,539.2 L1136.2,534.3 L1161.0,554.1 L1185.8,554.1 L1200.6,541.7 L1218.0,531.8 L1233.2,548.0 L1247.8,542.4 L1277.0,516.2 L1303.2,492.9 L1320.7,484.1 L1340.0,480.0 L1350.0,477.0 L1356.0,486.0 L1362.0,492.0 L1368.0,480.0 L1372.0,462.0 L1376.0,450.0 L1385.0,444.0 L1425.0,438.0 L1440.0,432.0 L1460.0,428.0 L1500.0,420.0 L1500.0,900.0 L400.0,900.0 L400.0,700.0Z" fill="#1874cd"/>
</g>
<g clip-path="url(#c_st0)"><rect x="300" y="200" width="1300" height="700" fill="#1874cd" filter="url(#fblob)"/></g>
<g clip-path="url(#c_st1)"><rect x="300" y="200" width="1300" height="700" fill="#1874cd" filter="url(#fblob)"/></g>
<g clip-path="url(#c_st2)"><rect x="300" y="200" width="1300" height="700" fill="#1874cd" filter="url(#fblob)"/></g>
<g clip-path="url(#c_st3)"><rect x="300" y="200" width="1300" height="700" fill="#1874cd" filter="url(#fblob)"/></g>
<g clip-path="url(#c_st4)"><rect x="300" y="200" width="1300" height="700" fill="#1874cd" filter="url(#fblob)"/></g>
<g clip-path="url(#c_st5)"><rect x="300" y="200" width="1300" height="700" fill="#1874cd" filter="url(#fblob)"/></g>
<g filter="url(#rough)">
<path d="M566.5,206.5 L983.7,206.5 L983.7,392.2 L960.0,397.6 L929.8,405.7 L911.0,408.4 L902.9,403.0 L873.3,397.6 L862.6,408.4 L849.1,435.3 L822.2,435.3 L803.4,443.4 L789.9,460.0 L741.5,460.0 L566.5,460.0Z" fill="#4d4d4d"/>
<path d="M907.7,207.7 L1201.2,207.7 L1201.2,353.2 L1181.5,358.1 L1166.7,368.0 L1142.0,377.9 L1124.7,372.9 L1090.4,350.5 L1081.6,356.9 L1072.9,374.4 L1057.6,381.1 L1035.7,383.3 L1018.2,378.9 L1016.2,375.4 L1013.7,385.3 L994.0,392.7 L974.3,395.1 L944.7,402.5 L907.7,407.5Z" fill="#4d4d4d"/>
<path d="M1326.6,362.4 L1338.3,377.0 L1352.8,385.8 L1370.3,391.6 L1384.9,382.9 L1393.6,379.9 L1393.6,345.0 L1399.5,345.0 L1399.5,377.0 L1411.1,382.9 L1419.9,379.9 L1431.5,377.0 L1443.2,374.1 L1454.9,362.4 L1466.5,356.6 L1484.0,355.2 L1498.6,350.8 L1519.0,345.0 L1527.8,342.0 L1548.2,327.5 L1548.2,254.6 L1326.6,254.6Z" fill="#4d4d4d"/>
<path d="M472.0,231.7 L708.2,231.7 L708.2,421.2 L597.4,421.2 L597.4,389.1 L472.0,389.1Z" fill="#4d4d4d"/>
<path d="M364.1,342.4 L387.5,351.2 L405.0,357.0 L422.4,357.0 L437.0,342.4 L451.6,330.8 L463.3,327.9 L472.0,336.6 L470.6,354.1 L469.1,371.6 L472.0,383.3 L474.9,400.8 L474.9,421.2 L410.8,421.2 L387.5,409.5 L370.0,400.8 L361.2,383.3 L364.1,365.8Z" fill="#4d4d4d"/>
<path d="M383.7,238.7 L408.5,238.7 L405.6,250.4 L398.3,260.6 L386.6,256.2Z" fill="#4d4d4d"/>
<path d="M395.0,240.0 L430.0,238.0 L440.0,255.0 L420.0,275.0 L398.0,268.0Z" fill="#4d4d4d"/>
<path d="M450.0,240.0 L470.0,240.0 L472.0,280.0 L455.0,290.0 L445.0,265.0Z" fill="#4d4d4d"/>
<path d="M380.0,285.0 L400.0,280.0 L410.0,300.0 L390.0,305.0Z" fill="#4d4d4d"/>
<path d="M424.5,237.3 L444.9,237.3 L442.0,251.9 L427.4,250.4Z" fill="#4d4d4d"/>
<path d="M455.1,238.7 L471.2,238.7 L471.2,254.8 L459.5,253.3Z" fill="#4d4d4d"/>
<path d="M382.3,269.3 L395.4,269.3 L395.4,278.1 L383.7,278.1Z" fill="#4d4d4d"/>
<path d="M370.6,285.4 L389.5,285.4 L389.5,311.6 L373.5,311.6Z" fill="#4d4d4d"/>
<path d="M453.7,323.3 L471.2,320.4 L477.0,332.0 L471.2,343.7 L456.6,340.8Z" fill="#4d4d4d"/>
<path d="M361.0,421.5 L384.3,423.3 L386.1,435.9 L371.7,439.4 L362.8,435.9Z" fill="#4d4d4d"/>
<path d="M377.1,443.0 L400.4,439.4 L409.4,443.0 L407.6,462.8 L389.7,464.6 L378.9,457.4Z" fill="#4d4d4d"/>
<path d="M364.6,400.0 L470.3,400.0 L470.3,416.1 L425.5,417.9 L389.7,414.3 L368.1,410.8Z" fill="#4d4d4d"/>
<path d="M456.0,480.7 L475.7,468.1 L479.3,453.8 L490.1,435.9 L515.2,423.3 L533.1,423.3 L533.1,480.7 L524.1,500.4 L506.2,507.6 L497.2,500.4 L479.3,511.2 L457.8,507.6Z" fill="#4d4d4d"/>
<path d="M411.2,421.5 L429.1,425.1 L425.5,439.4 L413.0,437.7Z" fill="#4d4d4d"/>
<path d="M476.4,424.7 L498.3,423.3 L505.6,434.9 L530.4,432.0 L533.3,453.9 L512.9,455.3 L498.3,443.7 L483.7,440.8Z" fill="#4d4d4d"/>
<path d="M398.2,468.1 L405.8,470.0 L407.7,500.5 L423.0,510.1 L434.4,517.7 L442.0,536.8 L453.5,553.9 L464.9,563.5 L476.3,574.9 L491.6,592.1 L495.4,600.1 L476.3,600.1 L464.9,582.5 L453.5,574.9 L442.0,563.5 L430.6,552.0 L423.0,536.8 L411.5,519.6 L400.1,506.3 L396.3,487.2Z" fill="#4d4d4d"/>
<path d="M377.2,449.1 L392.4,447.2 L407.7,452.9 L405.8,462.4 L384.8,460.5Z" fill="#4d4d4d"/>
<path d="M426.9,540.0 L443.0,540.0 L452.0,563.3 L450.2,575.9 L441.2,574.1 L432.3,556.1Z" fill="#4d4d4d"/>
<path d="M466.3,552.6 L475.3,554.3 L484.3,572.3 L493.2,597.4 L487.9,599.2 L478.9,579.4Z" fill="#4d4d4d"/>
<path d="M486.1,611.7 L500.4,611.7 L514.8,620.7 L525.5,626.1 L529.1,640.4 L523.7,663.7 L507.6,663.7 L496.8,654.8 L489.7,640.4Z" fill="#4d4d4d"/>
<path d="M525.5,626.1 L538.1,624.3 L550.6,640.4 L561.4,636.8 L572.1,635.0 L586.5,644.0 L590.1,654.8 L579.3,665.5 L572.1,679.9 L557.8,676.3 L543.4,678.1 L523.7,669.1 L529.1,647.6Z" fill="#4d4d4d"/>
<path d="M575.7,590.2 L588.3,592.0 L588.3,601.0 L577.5,601.0Z" fill="#4d4d4d"/>
<path d="M629.5,583.0 L641.2,575.9 L641.2,651.2 L633.1,647.6 L625.9,629.7 L631.3,611.7Z" fill="#4d4d4d"/>
<path d="M576.4,589.3 L590.5,589.3 L590.5,601.4 L578.4,601.4Z" fill="#4d4d4d"/>
<path d="M605.0,445.0 L640.0,445.0 L640.0,505.0 L620.0,515.0 L605.0,490.0Z" fill="#4d4d4d"/>
<path d="M590.0,425.0 L640.0,425.0 L640.0,470.0 L625.0,500.0 L600.0,490.0 L590.0,460.0Z" fill="#4d4d4d"/>
<path d="M584.5,448.1 L640.0,448.1 L640.0,460.2 L614.7,462.2 L606.7,480.4 L594.6,492.5 L590.5,516.7 L580.4,528.8 L564.3,542.9 L554.2,540.9 L570.4,524.7 L578.4,500.5 L586.5,480.4 L590.5,460.2Z" fill="#4d4d4d"/>
<path d="M622.8,482.4 L634.9,484.4 L634.9,494.5 L624.8,494.5Z" fill="#4d4d4d"/>
<path d="M535.0,464.2 L540.1,464.2 L540.1,500.5 L535.0,500.5Z" fill="#4d4d4d"/>
<path d="M578.4,420.4 L597.4,420.4 L597.4,460.0 L582.8,460.0 L577.0,443.7Z" fill="#4d4d4d"/>
<path d="M643.0,448.1 L716.6,448.1 L718.7,470.3 L723.7,494.5 L739.8,492.5 L739.8,448.1 L787.3,448.1 L786.3,458.2 L764.1,462.2 L768.1,490.4 L749.9,506.6 L731.8,500.5 L709.6,514.7 L723.7,526.8 L725.7,551.0 L651.1,551.0 L649.0,526.8 L671.2,510.6 L659.1,500.5 L643.0,500.5Z" fill="#4d4d4d"/>
<path d="M673.3,552.2 L731.8,552.2 L752.0,557.0 L749.9,567.1 L727.7,565.1 L721.7,581.2 L707.6,585.3 L697.5,577.2 L683.3,581.2 L675.3,573.2Z" fill="#4d4d4d"/>
<path d="M641.0,587.3 L659.1,585.3 L675.3,593.3 L671.2,620.0 L641.0,620.0Z" fill="#4d4d4d"/>
<path d="M497.4,241.7 L512.0,243.1 L523.6,256.2 L529.4,267.9 L526.5,278.1 L517.8,279.5 L507.6,273.7 L498.8,262.1Z" fill="#b3b3b3"/>
<path d="M472.6,235.8 L493.0,235.8 L493.0,262.1 L497.4,273.7 L500.3,291.2 L493.0,302.9 L485.7,311.6 L477.0,320.4 L472.6,311.6Z" fill="#b3b3b3"/>
<path d="M593.0,272.0 L605.0,270.0 L612.0,276.0 L600.0,280.0Z" fill="#b3b3b3"/>
<path d="M628.0,275.0 L640.0,273.0 L645.0,281.0 L632.0,283.0Z" fill="#b3b3b3"/>
<path d="M645.0,310.0 L655.0,306.0 L661.0,318.0 L656.0,330.0 L646.0,332.0 L642.0,322.0Z" fill="#b3b3b3"/>
<path d="M618.0,322.0 L630.0,319.0 L634.0,328.0 L622.0,331.0Z" fill="#b3b3b3"/>
<path d="M684.0,324.0 L696.0,321.0 L698.0,331.0 L686.0,334.0Z" fill="#b3b3b3"/>
<path d="M752.0,350.0 L764.0,352.0 L768.0,368.0 L760.0,384.0 L750.0,378.0 L753.0,365.0Z" fill="#b3b3b3"/>
<path d="M804.0,374.0 L812.0,375.0 L814.0,386.0 L805.0,387.0Z" fill="#b3b3b3"/>
<path d="M750.0,420.0 L762.0,419.0 L763.0,430.0 L751.0,430.0Z" fill="#b3b3b3"/>
<path d="M780.0,425.0 L794.0,424.0 L795.0,440.0 L782.0,441.0Z" fill="#b3b3b3"/>
<path d="M716.0,410.0 L734.0,408.0 L736.0,425.0 L720.0,427.0Z" fill="#b3b3b3"/>
<path d="M475.0,338.7 L477.9,347.5 L488.1,359.1 L498.3,363.5 L504.1,378.1 L507.0,388.3 L521.6,389.7 L542.0,391.2 L556.6,394.1 L568.2,388.3 L578.4,385.4 L575.5,395.6 L571.2,405.8 L577.0,417.4 L579.9,419.6 L475.0,419.6Z" fill="#b3b3b3"/>
</g>
<path d="M410.0,291.2 L412.9,292.7 L421.6,302.9 L433.3,305.8 L433.3,308.7 L421.6,307.2 L411.4,298.5Z" fill="#1874cd"/>
<path d="M444.9,302.9 L456.6,295.6 L465.3,297.0 L463.9,299.2 L455.1,300.0 L447.8,305.8Z" fill="#1874cd"/>
<path d="M398.3,324.7 L415.8,323.3 L430.4,317.4 L442.0,320.4 L442.0,322.5 L430.4,321.1 L415.8,326.2 L401.2,327.6Z" fill="#1874cd"/>
<g mask="url(#c_thin)"><rect x="300" y="200" width="1300" height="700" filter="url(#fthin)"/></g>
<g mask="url(#c_mid)"><rect x="300" y="200" width="1300" height="700" filter="url(#fmid)"/></g>
<g mask="url(#c_dense)"><rect x="300" y="200" width="1300" height="700" filter="url(#fdense)"/></g>
<path d="M819.9,760.3 L852.1,757.6 L868.3,768.3 L873.7,781.8 L865.6,800.6 L854.8,808.7 L857.5,824.8 L871.0,835.6 L865.6,838.3 L852.1,832.9 L841.4,811.4 L830.6,792.5Z" fill="#b3b3b3"/>
<path d="M750.0,697.0 L779.1,699.9 L779.1,708.7 L752.9,708.7Z" fill="#b3b3b3"/>
<path d="M1163.3,577.4 L1204.1,559.9 L1215.7,565.8 L1198.3,594.9 L1174.9,600.8Z" fill="#b3b3b3"/></g><path d="M351.6,235.9 L932.6,235.9 L932.6,226.2 L940.5,226.2 L943.4,241.0 L964.4,245.9 L979.2,244.7 L991.5,252.1 L1006.8,256.7 L1013.5,260.1 L1023.6,255.0 L1027.0,257.8 L1039.3,259.0 L1046.1,260.7 L1053.9,261.2 L1043.8,264.6 L1029.2,270.2 L1018.0,278.0 L1006.8,287.0 L996.7,294.8 L1001.2,296.5 L1012.4,292.6 L1022.5,289.2 L1023.6,297.1 L1034.8,297.1 L1046.1,291.5 L1057.3,288.7 L1068.5,282.5 L1078.6,276.9 L1089.8,276.3 L1079.7,284.8 L1075.2,292.6 L1078.6,289.2 L1090.9,292.6 L1097.6,299.3 L1112.2,302.7 L1124.5,296.0 L1148.1,294.8 L1149.2,300.4 L1162.6,301.6 L1166.0,311.7 L1170.5,315.0 L1153.7,314.5 L1135.7,312.8 L1120.0,316.1 L1113.3,321.7 L1106.6,317.3 L1102.1,322.9 L1094.3,337.4 L1090.9,343.0 L1085.3,350.7 L1088.0,350.0 L1098.0,334.0 L1102.0,333.0 L1092.0,348.0 L1087.7,358.1 L1090.2,377.9 L1087.7,392.7 L1089.0,405.0 L1092.7,417.3 L1097.6,427.2 L1105.0,426.0 L1112.4,424.7 L1119.8,407.5 L1122.3,387.7 L1117.3,372.9 L1117.3,358.1 L1124.5,346.4 L1136.9,338.6 L1144.7,326.2 L1149.2,319.5 L1158.2,321.7 L1169.4,327.4 L1180.6,333.0 L1183.9,339.7 L1181.2,355.9 L1174.1,366.6 L1170.5,373.8 L1175.9,377.4 L1183.0,368.4 L1192.0,365.7 L1197.4,370.2 L1201.0,391.7 L1197.4,402.5 L1192.0,406.1 L1188.4,413.2 L1183.0,424.0 L1179.4,427.6 L1185.0,431.0 L1192.0,433.0 L1201.0,435.7 L1215.3,433.0 L1229.7,423.1 L1242.2,419.5 L1256.5,413.2 L1272.7,402.5 L1276.3,397.1 L1273.6,386.3 L1278.1,383.7 L1297.8,383.7 L1305.0,387.2 L1317.5,386.3 L1330.1,379.2 L1331.9,368.4 L1329.2,363.0 L1340.8,352.3 L1360.5,340.6 L1391.0,340.6 L1429.4,340.7 L1436.1,332.8 L1443.5,331.6 L1450.9,329.1 L1458.3,311.8 L1463.3,297.0 L1480.5,276.0 L1484.2,283.4 L1500.3,278.5 L1511.4,287.1 L1512.6,324.2 L1520.0,327.9 L1526.2,339.0 L1527.4,345.1 L1517.6,350.1 L1502.7,355.0 L1490.4,357.5 L1478.1,367.4 L1465.7,373.5 L1453.4,383.4 L1446.0,393.3 L1442.3,405.6 L1446.0,413.0 L1453.4,420.4 L1450.9,430.3 L1458.3,427.8 L1460.8,418.0 L1464.5,422.9 L1463.3,430.3 L1448.5,436.5 L1436.1,430.3 L1431.5,433.9 L1425.7,438.3 L1405.0,440.0 L1383.4,442.6 L1385.0,444.5 L1424.3,441.2 L1424.3,445.5 L1393.6,455.7 L1382.0,457.2 L1380.2,464.5 L1379.1,476.8 L1370.2,489.2 L1361.2,500.4 L1357.0,492.0 L1350.0,483.0 L1346.5,485.1 L1352.6,492.2 L1360.6,499.3 L1356.6,505.3 L1357.6,513.4 L1355.6,522.5 L1349.5,529.5 L1344.5,536.6 L1338.4,546.7 L1337.4,556.8 L1344.5,570.3 L1348.5,583.4 L1346.5,588.4 L1338.4,594.5 L1332.4,605.6 L1325.3,612.6 L1310.2,615.6 L1298.1,626.7 L1284.6,634.0 L1267.0,652.2 L1255.9,659.6 L1237.6,673.4 L1225.4,690.1 L1220.8,714.5 L1223.9,735.9 L1231.5,763.3 L1243.7,796.9 L1251.3,818.2 L1249.8,845.7 L1243.7,860.9 L1231.5,864.0 L1225.4,851.8 L1213.2,839.6 L1205.6,821.3 L1199.5,806.0 L1196.4,790.8 L1196.4,766.4 L1185.7,754.2 L1173.5,738.9 L1161.3,734.4 L1153.0,741.1 L1138.5,742.2 L1130.6,727.6 L1119.4,723.2 L1101.5,723.2 L1088.0,727.6 L1083.5,714.2 L1074.6,724.3 L1065.6,725.4 L1056.6,727.6 L1047.6,723.2 L1036.4,725.4 L1034.2,732.1 L1045.4,732.1 L1052.1,736.6 L1049.9,747.8 L1054.4,763.5 L1061.1,759.0 L1052.1,754.6 L1043.2,750.1 L1034.2,754.6 L1025.2,760.2 L1014.0,752.3 L1002.8,742.2 L993.8,745.6 L973.6,741.1 L965.1,741.4 L949.0,748.2 L938.2,754.9 L922.1,765.7 L903.2,773.7 L892.5,784.5 L881.7,797.9 L885.8,811.4 L887.1,824.8 L891.1,841.5 L879.0,841.5 L862.9,836.9 L849.4,830.2 L842.7,814.1 L841.4,803.3 L830.6,789.9 L819.9,768.3 L809.1,753.5 L799.7,742.8 L787.6,741.4 L776.8,742.8 L771.4,754.9 L763.4,763.0 L747.2,753.5 L737.8,746.8 L732.4,733.4 L723.0,717.2 L706.9,702.4 L696.1,690.3 L690.8,686.3 L693.5,688.4 L658.2,688.4 L658.2,700.2 L598.1,700.2 L519.5,669.7 L520.4,665.7 L470.6,668.4 L467.4,657.0 L459.2,644.0 L443.0,634.2 L430.0,626.1 L413.7,619.6 L397.5,614.7 L394.2,601.7 L386.1,587.1 L374.7,575.8 L369.9,562.7 L365.0,546.5 L357.0,535.0 L352.0,528.0 L348.7,522.1 L339.0,507.5 L330.9,491.2 L324.4,475.0 L317.9,458.7 L323.4,436.0 L320.1,419.8 L317.3,417.4 L314.8,397.6 L319.7,373.0 L323.4,343.4 L326.0,318.7 L327.0,310.0 L324.7,303.5 L324.7,292.3 L328.0,288.9 L323.5,284.4 L320.2,276.6 L315.7,267.6 L311.2,257.5 L311.2,250.8 L322.4,253.6 L333.6,256.4 L349.3,258.6 L344.8,247.4 L347.1,241.8Z" fill="none" stroke="#000" stroke-width="3.6" stroke-linejoin="round"/><path d="M327.1,310.0 L332.0,307.6 L346.9,311.3 L351.8,323.6 L364.2,326.1 L381.4,322.4 L386.4,324.9 L403.6,321.2 L423.4,316.2 L431.5,314.7 L475.2,314.7 M472.7,235.9 L472.7,303.7 L474.0,311.3 M474.0,311.3 L482.6,318.7 L483.8,326.1 L477.6,336.0 L472.7,345.8 L469.0,358.2 L472.7,365.6 L472.9,419.8 M493.4,235.9 L494.9,261.9 L504.8,271.8 L514.7,284.2 L522.1,296.5 L527.0,299.0 L527.0,313.8 L529.5,321.2 L536.9,323.6 L541.8,333.5 L546.7,343.4 L554.1,353.2 L561.5,355.7 L571.4,353.2 L583.7,352.0 L591.1,348.3 L598.5,348.3 M598.5,354.1 L598.5,419.8 M598.5,341.0 L745.6,341.0 M598.5,348.3 L598.5,354.1 M320.1,419.8 L598.5,419.8 M410.5,419.8 L410.5,498.7 L523.3,603.8 M535.5,419.8 L535.5,574.9 L521.0,577.4 L522.6,598.5 L523.3,603.8 M523.3,603.8 L527.5,611.5 L534.0,624.5 L527.5,637.5 L524.2,650.5 L521.4,663.7 M598.5,446.1 L640.5,446.1 L640.5,551.2 M535.5,551.2 L787.6,551.2 M640.5,551.2 L640.5,700.2 M640.5,446.1 L787.6,446.1 L787.6,472.4 L929.2,472.4 M745.6,235.9 L745.6,446.1 M745.6,316.3 L902.9,316.3 M888.9,235.9 L893.5,255.0 L900.2,281.9 L904.3,308.8 L905.6,316.9 L897.5,323.6 L907.0,330.3 L907.0,380.1 M907.0,380.1 L1015.1,380.4 M745.6,393.5 L859.9,393.6 L870.6,397.6 L889.5,397.6 L901.6,403.0 M907.0,380.1 L904.3,386.8 L905.6,397.6 L901.6,403.0 M901.6,403.0 L911.0,413.8 L915.0,429.9 L919.2,440.6 L922.6,458.5 L928.2,467.5 L938.3,476.4 L934.9,483.2 L946.2,494.4 L943.9,551.2 M922.6,456.9 L1012.3,456.9 M767.6,551.2 L766.8,682.6 L691.6,682.6 L690.8,686.3 M766.8,564.4 L830.7,564.4 L830.6,615.7 L837.0,617.5 L844.8,619.7 L858.0,624.0 L873.0,630.8 L891.2,636.9 L909.4,636.9 L920.0,634.0 L931.6,631.8 L940.0,636.0 L946.6,639.5 M787.6,551.2 L943.7,551.2 L943.7,564.4 M943.7,564.4 L947.7,593.3 L946.6,639.5 M946.6,639.5 L955.9,641.9 L955.9,682.6 L959.7,685.0 L965.1,703.8 L962.4,730.7 L965.1,741.4 M955.9,655.8 L1016.2,656.3 M943.7,564.4 L1037.6,564.4 L1037.0,566.1 L1041.5,575.0 L1047.0,577.0 M1015.1,380.4 L1019.0,397.9 L1034.7,411.4 L1038.1,420.4 L1034.7,429.3 L1021.3,436.1 L1020.2,449.5 L1012.3,458.5 L1011.2,469.7 L1014.6,480.9 L1028.0,494.4 L1030.3,503.3 L1037.0,507.8 L1034.7,516.8 L1043.7,525.8 L1052.7,534.7 L1054.9,548.2 L1059.4,552.7 L1055.0,560.0 L1050.0,566.0 L1047.0,577.0 L1045.0,590.0 L1040.0,600.0 L1035.0,612.0 L1030.0,625.0 L1026.0,640.0 L1018.0,652.0 L1016.2,656.3 L1022.0,665.0 L1018.0,680.0 L1015.0,695.0 L1010.0,705.0 L1006.5,708.9 L1046.4,708.9 L1055.0,712.0 L1054.0,720.0 L1056.6,727.6 M1015.1,380.4 L1011.3,368.0 L998.9,358.1 L985.4,345.8 L981.7,326.1 L981.7,318.7 L994.0,311.3 L994.0,296.5 M1031.4,406.9 L1091.5,406.9 M1094.1,426.0 L1094.1,492.7 L1092.1,496.7 L1095.1,506.8 L1088.1,514.9 L1083.0,527.0 L1081.0,539.0 M1059.4,552.7 L1072.9,548.2 L1079.6,541.5 L1081.0,539.0 M1081.0,539.0 L1092.1,529.0 L1104.2,531.0 L1118.3,520.9 L1128.4,522.9 L1138.5,506.8 L1149.6,503.8 L1152.7,496.7 M1112.0,426.0 L1151.6,426.0 M1151.6,426.0 L1152.7,496.7 M1151.6,427.7 L1181.0,427.7 M1152.7,496.7 L1160.7,496.7 L1166.8,504.8 L1176.9,506.8 L1191.0,505.8 L1197.0,512.8 M1197.0,512.8 L1205.1,506.8 L1211.2,496.7 L1221.3,488.6 L1233.4,480.5 L1237.4,468.4 L1241.5,455.6 M1241.5,419.0 L1241.5,479.7 M1197.0,512.8 L1199.1,529.0 L1209.2,541.1 L1219.3,545.1 L1233.4,541.1 L1246.8,532.9 L1258.0,516.1 L1261.4,510.5 L1271.5,504.8 L1278.2,502.6 L1283.8,492.5 L1286.0,490.3 L1299.5,484.7 M1209.2,541.1 L1189.0,557.2 L1183.0,561.3 M1050.0,561.3 L1217.2,561.3 M1183.0,562.3 L1337.6,563.0 M1215.6,562.0 L1200.0,572.0 L1185.0,585.0 L1172.0,592.0 L1160.1,603.8 M1160.1,603.8 L1034.5,603.8 M1160.1,603.8 L1185.5,603.8 L1233.2,600.8 L1236.2,608.0 L1259.5,609.5 L1284.6,634.0 M1185.5,603.8 L1190.0,612.0 L1200.0,625.0 L1212.0,640.0 L1222.0,655.0 L1231.5,676.4 M1133.0,603.8 L1145.8,674.7 L1145.0,690.0 L1145.8,708.9 M1145.8,708.9 L1148.8,716.8 L1210.1,720.6 L1208.0,724.0 L1214.0,714.5 L1220.8,714.5 M1145.8,708.9 L1091.2,708.9 L1090.0,720.0 L1088.0,727.6 M1083.0,604.0 L1077.0,685.0 L1074.6,724.3 M1241.5,479.7 L1339.3,479.7 M1262.0,479.7 L1262.5,493.6 L1267.0,490.3 L1274.8,485.8 L1281.6,482.4 L1288.3,485.8 L1292.8,488.0 L1297.3,491.4 L1299.5,484.7 M1299.5,484.7 L1301.8,492.5 L1308.5,497.0 L1315.2,500.4 L1313.0,507.1 L1312.0,512.0 M1256.5,419.8 L1352.8,420.2 L1358.7,432.4 L1361.6,438.3 L1379.1,444.1 M1361.6,438.3 L1355.7,449.9 L1355.7,461.6 L1367.4,467.4 L1361.6,473.2 L1349.9,479.1 L1346.0,479.0 M1390.6,341.0 L1390.6,377.8 L1392.3,400.1 M1392.3,400.1 L1387.4,418.5 L1387.4,443.5 L1384.3,446.6 M1392.3,400.6 L1409.3,400.6 M1429.4,340.7 L1420.0,365.0 L1412.0,385.0 L1409.3,400.6 M1409.3,400.6 L1433.6,401.4 L1448.5,395.7 M1439.8,332.8 L1444.8,390.8 L1446.0,393.3 M1387.4,419.3 L1423.1,419.3 L1432.0,419.3 L1436.0,431.0 M1423.1,419.3 L1427.5,432.8 M1335.4,485.1 L1328.3,490.2 L1320.3,500.3 L1313.2,510.4 L1310.2,514.4 L1315.2,517.4 L1322.3,522.5 L1316.2,525.5 L1323.3,530.5 L1319.3,539.6 L1325.3,540.6 L1316.2,545.7 L1327.3,550.7 L1332.4,555.8 L1337.4,556.8 M1335.0,485.0 L1330.0,500.0 L1327.0,512.0 L1332.0,525.0 L1330.0,540.0 L1334.0,552.0 M1338.0,488.0 L1336.0,505.0 L1338.0,520.0 L1341.0,530.0 L1338.0,546.0 M1334.0,515.0 L1342.0,524.0 L1338.0,546.0 M1343.5,479.6 L1343.5,513.4 L1354.6,513.4 M1318.0,546.0 L1328.0,543.0 L1338.0,550.0 M1320.0,548.0 L1325.0,556.0 M1322.0,572.0 L1334.0,570.0 L1342.0,578.0 M1323.0,580.0 L1338.0,586.0 M1316.0,596.0 L1328.0,594.0 L1336.0,600.0 M1318.0,604.0 L1330.0,610.0 M1336.0,600.0 L1330.0,612.0 M1037.1,299.3 L1040.4,306.1 L1062.9,312.8 L1079.7,315.0 L1087.5,321.7 L1088.7,330.7 L1092.0,335.2 M960.0,744.0 L945.0,752.0 L925.0,762.0 L905.0,771.0 L893.0,782.0 L884.0,796.0 L882.0,810.0 L884.0,822.0" fill="none" stroke="#000" stroke-width="3.6" stroke-linejoin="round" stroke-linecap="round"/><path d="M352.0,238.0 L357.0,242.0 L359.0,250.0 L356.0,258.0 L360.0,268.0 L357.0,280.0 L351.0,285.0 L348.0,281.0 L351.0,270.0 L348.0,262.0 L351.0,252.0 L348.0,245.0Z" fill="#000" stroke="#000" stroke-width="3.5" stroke-linejoin="round"/><path d="M1058,266 L1062,261 L1070,257 L1075,257 L1072,262 L1063,266Z" fill="#4d4d4d"/><path d="M388,619 L398,617 L408,619 L398,622Z M414,626 L418,627 L417,630 L413,629Z M423,632 L426,635 L424,637 L421,634Z" fill="#1874cd"/><path d="M1192,877 L1200,875 M1212,872 L1225,869 L1238,865 L1247,860" stroke="#1874cd" stroke-width="2.5" fill="none" stroke-linecap="round"/>
</svg>
</body></html>
